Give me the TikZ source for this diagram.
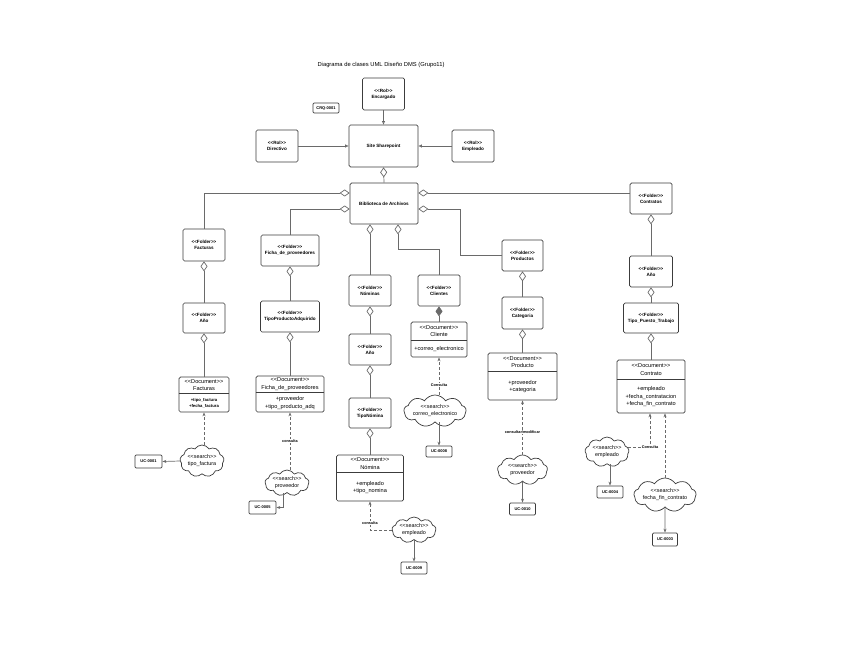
\documentclass[tikz,border=0pt]{standalone}
\usepackage{fontspec}
\setmainfont{Liberation Sans}
\usetikzlibrary{arrows.meta,shapes.symbols,calc}
\definecolor{lin}{HTML}{6A6A6A}
\definecolor{bord}{HTML}{3C3C3C}
\newcommand\lgl{<\kern0pt<}
\newcommand\rgr{>\kern0pt>}
\tikzset{
  sz/.style 2 args={minimum width=#1pt, minimum height=#2pt},
  fold/.style={draw=bord, line width=0.7pt, rounded corners=1.5pt, fill=white, inner sep=0pt,
    align=center, font=\bfseries\fontsize{4.6}{6}\selectfont},
  ucb/.style={draw=bord, line width=0.7pt, rounded corners=1.2pt, fill=white, inner sep=0pt,
    align=center, font=\bfseries\fontsize{4}{5}\selectfont},
  docb/.style={draw=bord, line width=0.7pt, rounded corners=1.5pt, fill=white, inner sep=0pt},
  bordl/.style={draw=bord, line width=0.6pt},
  doct/.style={inner sep=0pt, align=center, font=\fontsize{5.6}{7.5}\selectfont},
  docts/.style={inner sep=0pt, align=center, font=\bfseries\fontsize{4.2}{5.5}\selectfont},
  cloudn/.style={shape=cloud, cloud puffs=9, cloud puff arc=115, cloud ignores aspect,
    draw=bord, line width=0.7pt, fill=white, inner sep=0pt, align=center,
    font=\fontsize{5.4}{7}\selectfont},
  conn/.style={draw=lin, line width=0.7pt},
  agg/.style={conn, {Diamond[open, length=10pt, width=7pt, fill=white]}-},
  comp/.style={conn, {Diamond[length=10pt, width=7pt]}-},
  arr/.style={conn, -{Stealth[length=4pt, width=3pt]}},
  assoc/.style={conn, -{Triangle[open, length=3.5pt, width=3pt]}},
  dep/.style={conn, dash pattern=on 3pt off 2pt, -{Stealth[length=4pt, width=3pt]}},
  lbl/.style={fill=white, inner sep=0.6pt, font=\bfseries\fontsize{3.8}{4.5}\selectfont},
}
\newcommand\umldoc[9]{%
  \node[docb, minimum width=#4pt, minimum height=#5pt] (#1) at (#2,#3) {};
  \draw[bordl] ($(#1.north west)+(0,#6)$) -- ($(#1.north east)+(0,#6)$);
  \node[doct] (#1T) at ($(#1.north)+(0,{#6/2})$) {#7};
  \node[#9] (#1A) at ($(#1.south)+(0,{-(#5-#6)/2})$) {#8};
}
\begin{document}
\begin{tikzpicture}[x=1pt, y=-1pt]
\useasboundingbox (0,0) rectangle (848,655);

\node[inner sep=0pt, font=\fontsize{5.8}{7}\selectfont] (title) at (381,65) {Diagrama de clases UML Diseño DMS (Grupo11)};

% top level
\node[fold, sz={42}{32}] (enc) at (383.5,94) {\lgl Rol\rgr\\Encargado};
\node[ucb, sz={26}{10}] (crq) at (326,108) {CRQ-0001};
\node[fold, sz={69}{42}] (site) at (383.5,146) {Site Sharepoint};
\node[fold, sz={42}{32}] (dir) at (277,146) {\lgl Rol\rgr\\Directivo};
\node[fold, sz={42}{32}] (emp) at (473,146) {\lgl Rol\rgr\\Empleado};
\node[fold, sz={68}{41}] (bib) at (384,203.5) {Biblioteca de Archivos};

% folders
\node[fold, sz={42}{32}] (facF) at (204,245) {\lgl Folder\rgr\\Facturas};
\node[fold, sz={58}{31}] (fichaF) at (290,250.5) {\lgl Folder\rgr\\Ficha\_de\_proveedores};
\node[fold, sz={42}{31}] (nomF) at (370,290.5) {\lgl Folder\rgr\\Nóminas};
\node[fold, sz={42}{31}] (cliF) at (439,290.5) {\lgl Folder\rgr\\Clientes};
\node[fold, sz={41}{31}] (prodF) at (522.5,255.5) {\lgl Folder\rgr\\Productos};
\node[fold, sz={42}{31}] (contF) at (651,198.5) {\lgl Folder\rgr\\Contratos};
\node[fold, sz={42}{30}] (anoFac) at (204,318) {\lgl Folder\rgr\\Año};
\node[fold, sz={59}{31}] (tipoProd) at (290,316.5) {\lgl Folder\rgr\\TipoProductoAdquirido};
\node[fold, sz={42}{31}] (anoNom) at (370,349.5) {\lgl Folder\rgr\\Año};
\node[fold, sz={42}{30}] (tipoNom) at (370,413) {\lgl Folder\rgr\\TipoNómina};
\node[fold, sz={41}{32}] (cat) at (522.5,313) {\lgl Folder\rgr\\Categoria};
\node[fold, sz={43}{31}] (anoCont) at (651,271.5) {\lgl Folder\rgr\\Año};
\node[fold, sz={55}{30}] (tpt) at (651,318) {\lgl Folder\rgr\\Tipo\_Puesto\_Trabajo};

% documents
\umldoc{docFac}{204}{394.5}{50}{35}{17}{\lgl Document\rgr\\Facturas}{+tipo\_factura\\+fecha\_factura}{docts}
\umldoc{docFicha}{290}{394}{68}{36}{17}{\lgl Document\rgr\\Ficha\_de\_proveedores}{+proveedor\\+tipo\_producto\_adq}{doct}
\umldoc{docNom}{370}{478}{67}{46}{18}{\lgl Document\rgr\\Nómina}{+empleado\\+tipo\_nomina}{doct}
\umldoc{docCli}{439}{339.5}{56}{35}{19}{\lgl Document\rgr\\Cliente}{+correo\_electronico}{doct}
\umldoc{docProd}{522.5}{376.5}{69}{47}{19}{\lgl Document\rgr\\Producto}{+proveedor\\+categoria}{doct}
\umldoc{docCont}{651}{386.5}{68}{53}{20}{\lgl Document\rgr\\Contrato}{+empleado\\+fecha\_contratacion\\+fecha\_fin\_contrato}{doct}

% search clouds
\node[cloudn, sz={44}{32}] (cFac) at (202,461) {\lgl search\rgr\\tipo\_factura};
\node[cloudn, sz={44}{26}] (cFicha) at (287,483) {\lgl search\rgr\\proveedor};
\node[cloudn, sz={44}{26}] (cNom) at (414,530) {\lgl search\rgr\\empleado};
\node[cloudn, sz={60}{32}] (cCli) at (435,411) {\lgl search\rgr\\correo\_electronico};
\node[cloudn, sz={50}{30}] (cProd) at (522.5,470) {\lgl search\rgr\\proveedor};
\node[cloudn, sz={44}{30}] (cEmp) at (607,452) {\lgl search\rgr\\empleado};
\node[cloudn, sz={52}{34}] (cFin) at (665,495) {\lgl search\rgr\\fecha\_fin\_contrato};

% use cases
\node[ucb, sz={27}{13}] (uc1) at (148.5,461.5) {UC-0001};
\node[ucb, sz={27}{13}] (uc5) at (262.5,507.5) {UC-0005};
\node[ucb, sz={26}{12}] (uc9) at (414,568) {UC-0009};
\node[ucb, sz={26}{11}] (uc8) at (439,451.5) {UC-0008};
\node[ucb, sz={26}{12}] (uc10) at (522.5,509) {UC-0010};
\node[ucb, sz={26}{12}] (uc4) at (610,492) {UC-0004};
\node[ucb, sz={25}{13}] (uc3) at (665,539.5) {UC-0003};

% top associations
\draw[assoc] (enc.south) -- (site.north);
\draw[assoc] (dir.east) -- (site.west);
\draw[assoc] (emp.west) -- (site.east);

% aggregations
\draw[agg] (site.south) -- (bib.north);
\draw[agg] ([yshift=10.5pt]bib.west) -| (facF.north);
\draw[agg] ([yshift=-5.5pt]bib.west) -| (fichaF.north);
\draw[agg] ([xshift=-14pt]bib.south) -- (nomF.north);
\draw[agg] ([xshift=14pt]bib.south) -- ++(0,25) -| (cliF.north);
\draw[agg] ([yshift=10.5pt]bib.east) -- ([yshift=5.5pt]contF.west);
\draw[agg] ([yshift=-5.5pt]bib.east) -- ++(42,0) |- (prodF.west);

\draw[agg] (facF.south) -- (anoFac.north);
\draw[agg] (anoFac.south) -- (docFac.north);
\draw[agg] (fichaF.south) -- (tipoProd.north);
\draw[agg] (tipoProd.south) -- (docFicha.north);
\draw[agg] (nomF.south) -- (anoNom.north);
\draw[agg] (anoNom.south) -- (tipoNom.north);
\draw[agg] (tipoNom.south) -- (docNom.north);
\draw[comp] (cliF.south) -- (docCli.north);
\draw[agg] (prodF.south) -- (cat.north);
\draw[agg] (cat.south) -- (docProd.north);
\draw[agg] (contF.south) -- (anoCont.north);
\draw[agg] (anoCont.south) -- (tpt.north);
\draw[agg] (tpt.south) -- (docCont.north);

% dependencies
\draw[dep] (cFac.north -| docFac.south) -- (docFac.south);
\draw[dep] (cFicha.north -| docFicha.south) -- node[lbl, pos=0.5] {consulta} (docFicha.south);
\draw[dep] (cNom.west) -| node[lbl, pos=0.62] {consulta} (docNom.south);
\draw[dep] (cCli.north -| docCli.south) -- node[lbl, pos=0.25] {Consulta} (docCli.south);
\draw[dep] (cProd.north) -- node[lbl, pos=0.42] {consultar/modificar} (docProd.south);
\draw[dep] (cEmp.12) -| node[lbl, pos=0.5] {Consulta} ([xshift=-1pt]docCont.south);
\draw[dep] (cFin.north) -- (cFin.north |- docCont.south);

% search -> use case
\draw[arr] (cFac.west) -- (uc1.east);
\draw[arr] ([xshift=-4pt]cFicha.south) |- (uc5.east);
\draw[arr] (cNom.south) -- (uc9.north);
\draw[arr] (cCli.south -| uc8.north) -- (uc8.north);
\draw[arr] (cProd.south) -- (uc10.north);
\draw[arr] (cEmp.south -| uc4.north) -- (uc4.north);
\draw[arr] (cFin.south) -- (uc3.north);
\end{tikzpicture}
\end{document}
